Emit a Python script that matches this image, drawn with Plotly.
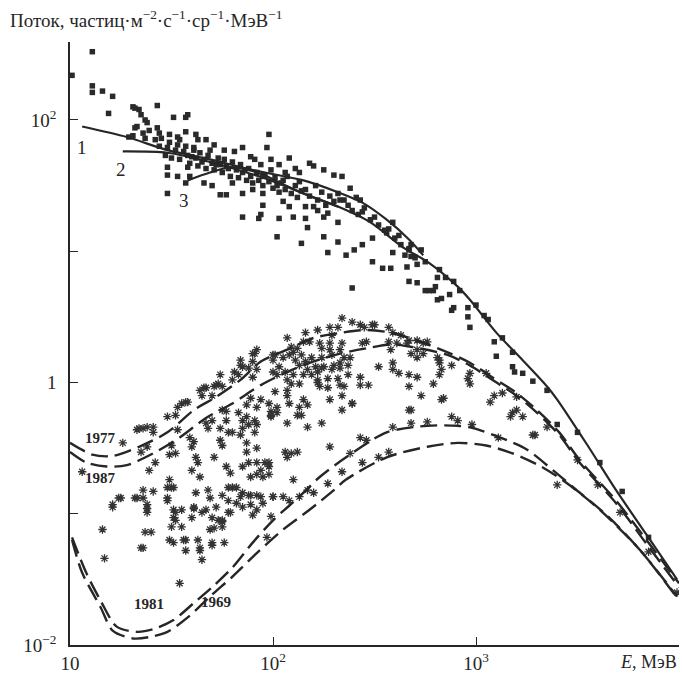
import plotly.graph_objects as go

# ---- data (log10 E [MeV], log10 flux) ----
curve1_logE = [1.06, 1.28, 1.48, 1.69, 1.87, 1.99, 2.15, 2.32, 2.44, 2.56, 2.67, 2.74]
curve1_logF = [1.95, 1.87, 1.77, 1.70, 1.63, 1.59, 1.54, 1.45, 1.37, 1.24, 1.09, 0.97]

curve2_logE = [1.26, 1.48, 1.69, 1.87, 1.99, 2.15, 2.32, 2.48, 2.64, 2.77, 2.91, 2.97, 3.10, 3.23,
               3.35, 3.40, 3.55, 3.69, 3.84, 3.99]
curve2_logF = [1.76, 1.75, 1.68, 1.60, 1.54, 1.44, 1.34, 1.22, 1.03, 0.91, 0.73, 0.63, 0.38, 0.17,
               -0.03, -0.13, -0.48, -0.82, -1.16, -1.50]

curve3_logE = [1.58, 1.69, 1.80, 1.94, 2.05, 2.15, 2.32]
curve3_logF = [1.54, 1.60, 1.64, 1.59, 1.51, 1.44, 1.34]

y1977_logE = [1.00, 1.11, 1.21, 1.34, 1.48, 1.61, 1.72, 1.84, 1.94, 2.07, 2.20, 2.34, 2.46, 2.58,
              2.69, 2.86, 2.97, 3.08, 3.20, 3.30, 3.41, 3.51, 3.69, 3.84, 4.00]
y1977_logF = [-0.46, -0.55, -0.56, -0.49, -0.38, -0.21, -0.11, 0.02, 0.16, 0.25, 0.34, 0.38, 0.40,
              0.38, 0.33, 0.23, 0.15, 0.04, -0.08, -0.21, -0.38, -0.59, -0.90, -1.20, -1.53]

y1987_logE = [1.00, 1.08, 1.18, 1.28, 1.41, 1.54, 1.67, 1.80, 1.94, 2.07, 2.20, 2.33, 2.46, 2.59,
              2.72, 2.86, 2.97, 3.08, 3.20, 3.30, 3.41, 3.51, 3.69, 3.84, 4.00]
y1987_logF = [-0.53, -0.61, -0.64, -0.63, -0.54, -0.42, -0.27, -0.16, -0.02, 0.08, 0.16, 0.22, 0.26,
              0.29, 0.26, 0.21, 0.13, 0.02, -0.10, -0.23, -0.40, -0.61, -0.92, -1.23, -1.56]

y1981_logE = [1.01, 1.08, 1.15, 1.23, 1.33, 1.41, 1.51, 1.61, 1.70, 1.80, 1.90, 2.00, 2.13, 2.23,
              2.36, 2.56, 2.76, 2.91, 2.99, 3.12, 3.25, 3.38, 3.48, 3.65, 3.81, 3.99]
y1981_logF = [-1.18, -1.45, -1.66, -1.86, -1.90, -1.88, -1.81, -1.68, -1.56, -1.41, -1.22, -1.05,
              -0.87, -0.72, -0.57, -0.38, -0.33, -0.33, -0.35, -0.42, -0.51, -0.67, -0.80, -1.02,
              -1.28, -1.63]

y1969_logE = [1.01, 1.06, 1.15, 1.21, 1.31, 1.39, 1.48, 1.58, 1.69, 1.80, 1.92, 2.05, 2.18, 2.30,
              2.36, 2.56, 2.76, 2.91, 3.05, 3.18, 3.32, 3.45, 3.61, 3.81, 3.99]
y1969_logF = [-1.20, -1.45, -1.71, -1.89, -1.95, -1.94, -1.90, -1.79, -1.63, -1.48, -1.30, -1.12,
              -0.97, -0.82, -0.74, -0.57, -0.49, -0.46, -0.48, -0.54, -0.64, -0.77, -0.97, -1.28,
              -1.64]

# square markers: measured points (log10 E, log10 flux)
square_points = [
    (1.01, 2.34), (1.11, 2.52), (1.11, 2.26), (1.11, 2.21), (1.16, 2.22), (1.21, 2.18), (1.19, 2.05),
    (1.31, 2.10), (1.32, 2.09), (1.34, 2.08), (1.35, 2.04), (1.37, 2.00), (1.38, 1.98), (1.43, 2.11),
    (1.51, 2.02), (1.57, 2.02), (1.58, 2.04), (1.32, 1.94), (1.33, 1.95), (1.31, 1.88), (1.36, 1.90),
    (1.29, 1.87), (1.43, 1.94), (1.44, 1.90), (1.49, 1.89), (1.53, 1.87), (1.57, 1.91), (1.54, 1.85),
    (1.63, 1.85), (1.61, 1.79), (1.48, 1.64), (1.48, 1.58), (1.53, 1.57), (1.58, 1.64), (1.59, 1.57),
    (1.57, 1.52), (1.66, 1.52), (1.70, 1.50), (1.80, 1.52), (1.48, 1.44), (1.74, 1.43), (1.77, 1.43),
    (1.85, 1.44), (1.90, 1.47), (1.85, 1.26), (1.94, 1.28), (1.95, 1.35), (1.95, 1.44), (1.98, 1.89),
    (1.97, 1.79), (1.85, 1.79), (1.89, 1.72), (2.08, 1.71), (2.18, 1.67), (2.20, 1.65), (2.25, 1.62),
    (2.30, 1.58), (2.34, 1.57), (2.38, 1.48), (2.43, 1.39), (1.93, 1.25), (2.02, 1.11), (2.14, 1.06),
    (2.17, 1.18), (2.25, 1.11), (2.32, 1.07), (2.27, 0.99), (2.36, 0.97), (2.40, 1.01), (2.44, 1.05),
    (2.49, 0.92), (2.54, 0.87), (2.58, 0.87), (2.39, 0.72), (2.67, 0.77), (2.71, 0.76), (2.75, 0.70),
    (2.79, 0.70), (2.81, 0.63), (2.10, 1.26), (2.03, 1.25), (2.08, 1.34), (2.16, 1.34), (2.16, 1.25),
    (2.05, 1.38), (2.20, 1.34), (2.22, 1.31), (2.25, 1.26), (2.27, 1.29), (2.32, 1.22), (2.83, 0.64),
    (2.87, 0.67), (2.89, 0.57), (2.96, 0.57), (2.49, 1.10), (2.59, 0.99), (2.71, 0.90), (2.65, 0.97),
    (2.32, 1.44), (2.33, 1.39), (2.41, 1.41), (2.55, 1.16), (2.56, 1.14), (2.67, 1.01), (2.73, 1.01),
    (2.59, 1.22), (2.67, 1.02), (2.68, 0.96), (2.66, 0.88), (2.77, 0.70), (2.80, 0.73), (2.81, 0.80),
    (2.89, 0.77), (2.88, 0.55), (2.96, 0.50), (2.97, 0.42), (3.04, 0.51), (3.09, 0.31), (3.10, 0.20),
    (3.13, 0.34), (3.18, 0.23), (3.18, 0.12), (3.19, 0.08), (3.23, 0.07), (3.28, 0.01), (3.35, -0.06),
    (3.40, -0.32), (3.50, -0.38), (3.61, -0.61), (3.72, -0.83), (3.85, -1.18),
    (1.42, 1.85), (1.44, 1.80), (1.47, 1.73), (1.48, 1.79), (1.50, 1.71), (1.52, 1.77), (1.53, 1.81),
    (1.54, 1.70), (1.56, 1.76), (1.57, 1.80), (1.58, 1.73), (1.59, 1.67), (1.61, 1.77), (1.62, 1.71),
    (1.63, 1.65), (1.64, 1.75), (1.66, 1.70), (1.67, 1.63), (1.68, 1.73), (1.69, 1.77), (1.70, 1.67),
    (1.71, 1.62), (1.73, 1.71), (1.74, 1.66), (1.75, 1.60), (1.76, 1.70), (1.78, 1.63), (1.79, 1.57),
    (1.80, 1.68), (1.82, 1.62), (1.83, 1.56), (1.84, 1.66), (1.85, 1.60), (1.87, 1.54), (1.88, 1.63),
    (1.89, 1.57), (1.90, 1.52), (1.92, 1.60), (1.93, 1.54), (1.94, 1.66), (1.95, 1.50), (1.96, 1.58),
    (1.98, 1.53), (1.99, 1.62), (2.00, 1.48), (2.01, 1.56), (2.02, 1.50), (2.03, 1.45), (2.05, 1.54),
    (2.06, 1.47), (2.07, 1.57), (2.09, 1.44), (2.11, 1.50), (2.12, 1.41), (2.13, 1.53), (2.16, 1.47),
    (2.18, 1.42), (2.21, 1.50), (2.22, 1.39), (2.24, 1.45), (2.26, 1.35), (2.28, 1.42), (2.35, 1.39),
    (2.39, 1.31), (2.42, 1.28), (2.45, 1.33), (2.48, 1.24), (2.52, 1.20), (2.60, 1.10), (2.63, 1.05),
    (2.70, 0.95), (2.75, 0.92), (2.82, 0.86), (2.85, 0.80), (2.92, 0.70), (3.00, 0.59), (3.06, 0.48),
    (1.39, 1.92), (1.37, 1.86), (1.45, 1.86), (1.49, 1.83), (1.62, 1.89), (1.67, 1.85), (1.71, 1.81),
    (1.76, 1.77), (1.81, 1.76), (1.91, 1.70), (1.99, 1.70), (2.03, 1.66), (2.11, 1.63), (2.13, 1.60),
    (2.06, 1.60), (1.60, 1.72), (1.65, 1.68), (1.72, 1.66), (1.77, 1.65), (1.86, 1.62), (1.95, 1.57),
    (2.04, 1.52), (2.14, 1.46), (2.30, 1.38), (2.37, 1.35), (2.44, 1.30), (2.50, 1.26), (2.57, 1.17),
    (2.62, 1.12), (2.68, 1.05),
]

# asterisk markers: measured points (log10 E, log10 flux)
star_points = [
    (1.26, -0.46), (1.06, -0.68), (1.16, -1.12), (1.17, -1.34), (1.21, -0.95), (1.25, -0.88),
    (1.33, -0.88), (1.36, -0.82), (1.41, -0.83), (1.48, -0.88), (1.49, -0.74), (1.50, -0.80),
    (1.38, -0.96), (1.51, -0.97), (1.55, -0.97), (1.61, -0.96), (1.51, -1.03), (1.50, -1.10),
    (1.55, -1.10), (1.65, -0.99), (1.70, -1.03), (1.73, -1.05), (1.75, -1.06), (1.79, -0.99),
    (1.78, -0.90), (1.84, -0.87), (1.89, -0.86), (1.94, -0.87), (1.95, -0.92), (2.00, -0.87),
    (1.99, -1.02), (1.85, -0.95), (1.90, -1.01), (2.05, -0.87), (1.37, -1.14), (1.40, -1.14),
    (1.35, -1.26), (1.51, -1.22), (1.57, -1.20), (1.57, -1.28), (1.63, -1.20), (1.64, -1.26),
    (1.65, -1.35), (1.70, -1.24), (1.76, -1.22), (1.54, -1.53), (1.33, -0.36), (1.36, -0.35),
    (1.41, -0.34), (1.41, -0.38), (1.35, -0.53), (1.38, -0.49), (1.42, -0.61), (1.39, -0.67),
    (1.48, -0.26), (1.53, -0.19), (1.55, -0.16), (1.57, -0.15), (1.52, -0.25), (1.53, -0.36),
    (1.50, -0.48), (1.49, -0.55), (1.52, -0.54), (1.59, -0.42), (1.61, -0.45), (1.60, -0.49),
    (1.62, -0.57), (1.63, -0.61), (1.60, -0.67), (1.64, -0.72), (1.65, -0.10), (1.70, -0.10),
    (1.66, -0.04), (1.71, -0.03), (1.73, -0.01), (1.75, -0.03), (1.74, 0.06), (1.81, 0.08),
    (1.80, 0.02), (1.83, 0.06), (1.84, 0.13), (1.84, 0.17), (1.88, 0.11), (1.90, 0.16),
    (1.91, 0.22), (1.92, 0.10), (1.90, 0.04), (1.67, -0.31), (1.68, -0.35), (1.70, -0.29),
    (1.74, -0.35), (1.75, -0.21), (1.77, -0.22), (1.77, -0.29), (1.74, -0.44), (1.75, -0.48),
    (1.71, -0.57), (1.83, -0.23), (1.85, -0.29), (1.87, -0.26), (1.88, -0.32), (1.85, -0.35),
    (1.91, -0.29), (1.92, -0.32), (1.89, -0.12), (1.94, -0.13), (1.98, -0.16), (1.99, -0.25),
    (1.87, -0.17), (1.78, -0.38), (1.80, -0.38), (1.84, -0.40), (1.91, -0.38), (1.87, -0.53),
    (1.92, -0.50), (1.77, -0.64), (1.79, -0.69), (1.80, -0.80), (1.78, -0.80), (1.82, -0.80),
    (1.85, -0.64), (1.89, -0.72), (1.92, -0.70), (1.95, -0.72), (1.98, -0.64), (1.98, -0.70),
    (1.85, -0.84), (1.88, -0.86), (1.92, -0.86), (1.89, -0.93), (1.92, -0.97), (1.75, -0.86),
    (1.68, -0.82), (1.69, -0.88), (1.62, -0.84), (1.61, -0.95), (1.67, -0.97), (1.72, -0.95),
    (1.78, -0.99), (1.82, -0.92), (1.75, -1.05), (1.75, -1.10), (1.69, -1.12), (1.71, -1.11),
    (1.60, -1.03), (1.52, -0.99), (1.52, -1.05), (1.48, -0.90), (1.51, -0.80), (1.48, -0.80),
    (1.36, -0.88), (1.32, -0.88), (1.38, -0.93), (1.38, -0.99), (1.24, -0.88), (1.21, -0.93),
    (1.49, -1.20), (1.56, -1.20), (1.64, -1.28), (1.70, -1.22), (1.36, -1.26), (1.96, -0.61),
    (1.88, -0.61), (1.92, -0.19), (1.87, -0.46),
    (1.34, -0.35), (1.38, -0.34), (1.58, -0.15), (1.64, -0.06), (1.67, -0.04), (1.72, -0.02),
    (1.85, 0.12), (1.90, 0.22), (1.92, 0.25), (2.00, 0.21), (2.07, 0.34), (2.16, 0.38),
    (2.22, 0.40), (2.28, 0.42), (2.34, 0.49), (2.39, 0.46), (2.43, 0.44), (2.49, 0.44),
    (2.32, 0.42), (2.45, 0.42), (2.50, 0.44), (2.57, 0.42), (2.59, 0.38), (2.15, 0.31),
    (2.18, 0.31), (2.23, 0.30), (2.28, 0.30), (2.34, 0.30), (2.29, 0.36), (2.46, 0.31),
    (2.44, 0.30), (2.09, 0.27), (2.12, 0.26), (2.10, 0.23), (2.24, 0.26), (2.28, 0.25),
    (2.33, 0.25), (2.05, 0.19), (2.08, 0.21), (2.01, 0.21), (2.00, 0.17), (2.14, 0.21),
    (2.11, 0.17), (2.13, 0.13), (2.16, 0.16), (2.19, 0.19), (2.21, 0.12), (2.24, 0.19),
    (2.25, 0.12), (2.29, 0.21), (2.30, 0.13), (2.33, 0.15), (2.35, 0.19), (2.38, 0.19),
    (2.37, 0.13), (2.03, 0.12), (2.06, 0.08), (2.02, 0.06), (2.00, 0.08), (2.17, 0.10),
    (2.22, 0.08), (2.24, 0.11), (2.29, 0.10), (2.33, 0.11), (2.10, 0.06), (2.15, 0.06),
    (2.19, 0.06), (2.22, 0.02), (2.27, 0.03), (2.32, 0.03), (2.37, 0.06), (2.43, 0.04),
    (2.07, 0.02), (2.09, -0.01), (2.13, -0.01), (2.22, 0.00), (2.23, -0.03), (2.27, -0.04),
    (2.33, -0.02), (2.35, -0.03), (2.43, -0.02), (2.47, -0.02), (2.01, -0.07), (2.07, -0.06),
    (2.07, -0.10), (2.52, 0.12), (2.59, 0.15), (2.59, 0.10), (2.62, 0.07), (2.67, 0.06),
    (2.71, 0.04), (2.67, -0.03), (2.79, -0.01), (2.73, -0.10), (2.84, -0.12), (2.88, 0.13),
    (2.82, 0.17), (2.57, 0.31), (2.58, 0.25), (2.61, 0.30), (2.66, 0.30), (2.67, 0.32),
    (2.71, 0.32), (2.74, 0.30), (2.68, 0.22), (2.71, 0.25), (2.74, 0.22), (2.71, 0.19),
    (2.81, 0.19), (2.82, 0.15), (2.83, 0.10), (2.82, 0.06), (2.28, -0.13), (2.34, -0.10),
    (2.39, -0.16), (2.34, -0.21), (2.02, -0.19), (1.99, -0.22), (2.02, -0.23), (1.99, -0.26),
    (2.08, -0.16), (2.13, -0.19), (2.15, -0.13), (2.17, -0.17), (2.14, -0.25), (2.12, -0.25),
    (2.07, -0.31), (2.17, -0.34), (2.24, -0.31), (2.68, -0.21), (2.28, -0.49), (2.06, -0.53),
    (2.09, -0.54), (2.12, -0.53), (2.07, -0.57), (2.43, -0.42), (2.46, -0.44), (2.52, -0.57),
    (2.57, -0.53), (2.59, -0.34), (2.68, -0.31), (2.76, -0.30), (2.91, -0.29), (2.10, -0.74),
    (2.34, -0.68), (2.27, -0.77), (2.17, -0.82), (2.20, -0.84), (2.13, -0.87), (2.08, -0.90),
    (2.00, -0.87), (1.94, -0.67), (1.98, -0.61), (1.92, -0.61), (2.63, 0.36), (2.76, 0.31),
    (1.97, -1.18), (2.39, -0.16), (2.67, -0.21), (2.98, -0.32), (2.83, -0.13), (2.38, -0.54),
    (2.44, -0.61), (3.11, -0.42), (3.18, -0.23), (3.20, -0.21), (3.17, -0.26), (3.23, -0.26),
    (3.28, -0.40), (3.35, -0.34), (3.40, -0.78), (3.50, -0.59), (3.60, -0.78), (3.71, -0.99),
    (3.85, -1.29), (3.99, -1.60), (3.07, -0.15), (2.97, 0.07), (2.96, 0.03), (2.97, -0.01),
    (3.05, 0.07), (3.09, -0.10), (3.13, -0.08), (3.20, -0.11), (3.29, -0.40), (2.88, -0.26),
]

# ---- figure ----
INK = "#262626"
fig = go.Figure()


def pw(vals):
    return [10 ** v for v in vals]


fig.add_trace(go.Scatter(
    x=pw([p[0] for p in square_points]), y=pw([p[1] for p in square_points]),
    mode="markers", marker=dict(symbol="square", size=5.5, color="#2a2a2a"), hoverinfo="skip"))
fig.add_trace(go.Scatter(
    x=pw([p[0] for p in star_points]), y=pw([p[1] for p in star_points]),
    mode="markers",
    marker=dict(symbol="asterisk-open", size=7, color="#333333",
                line=dict(width=1.3, color="#333333")),
    hoverinfo="skip"))

for lx, ly in [(curve1_logE, curve1_logF), (curve2_logE, curve2_logF), (curve3_logE, curve3_logF)]:
    fig.add_trace(go.Scatter(x=pw(lx), y=pw(ly), mode="lines",
                             line=dict(color=INK, width=2.2, shape="spline", smoothing=0.8),
                             hoverinfo="skip"))

for lx, ly in [(y1977_logE, y1977_logF), (y1987_logE, y1987_logF),
               (y1981_logE, y1981_logF), (y1969_logE, y1969_logF)]:
    fig.add_trace(go.Scatter(x=pw(lx), y=pw(ly), mode="lines",
                             line=dict(color=INK, width=2.4, dash="17px,7px", shape="spline",
                                       smoothing=0.8),
                             hoverinfo="skip"))

SERIF = "Liberation Serif"
annotations = [
    dict(text="Поток, частиц·м<sup>−2</sup>·с<sup>−1</sup>·ср<sup>−1</sup>·МэВ<sup>−1</sup>",
         xref="paper", yref="paper", x=0, y=1, xanchor="left", yanchor="bottom",
         xshift=-62, yshift=9, showarrow=False, font=dict(family=SERIF, size=19, color=INK)),
    dict(text="<i>E</i>, МэВ", xref="paper", yref="paper", x=1, y=0, xanchor="right",
         yanchor="top", yshift=-5, showarrow=False, font=dict(family=SERIF, size=18, color=INK)),
]
for txt, lx, ly in [("1", 1.06, 1.79), ("2", 1.25, 1.62), ("3", 1.56, 1.39)]:
    annotations.append(dict(text=txt, x=lx, y=ly, xref="x", yref="y", showarrow=False,
                            font=dict(family=SERIF, size=19, color=INK)))
for txt, lx, ly in [("1977", 1.15, -0.42), ("1987", 1.15, -0.73),
                    ("1981", 1.39, -1.69), ("1969", 1.72, -1.67)]:
    annotations.append(dict(text="<b>" + txt + "</b>", x=lx, y=ly, xref="x", yref="y",
                            showarrow=False, font=dict(family=SERIF, size=15, color=INK)))

fig.update_layout(
    width=682, height=679,
    margin=dict(l=70, r=3, t=42, b=34),
    paper_bgcolor="white", plot_bgcolor="white",
    showlegend=False,
    font=dict(family=SERIF, size=18, color=INK),
    annotations=annotations,
    xaxis=dict(type="log", range=[1, 4.0], showline=True, linecolor=INK, linewidth=1.5,
               ticks="inside", ticklen=8, tickwidth=1.2, tickcolor=INK,
               tickvals=[10, 100, 1000], ticktext=["10", "10<sup>2</sup>", "10<sup>3</sup>"],
               showgrid=False, zeroline=False, tickfont=dict(family=SERIF, size=19)),
    yaxis=dict(type="log", range=[-2, 2.594], showline=True, linecolor=INK, linewidth=1.5,
               ticks="inside", ticklen=8, tickwidth=1.2, tickcolor=INK,
               tickvals=[0.01, 0.1, 1, 10, 100],
               ticktext=["10<sup>−2</sup>", "", "1", "", "10<sup>2</sup>"],
               showgrid=False, zeroline=False, ticklabelstandoff=8,
               tickfont=dict(family=SERIF, size=19)),
)

fig.write_html("out.html", config={"displayModeBar": False},
               post_script="document.body.style.margin='0';")
